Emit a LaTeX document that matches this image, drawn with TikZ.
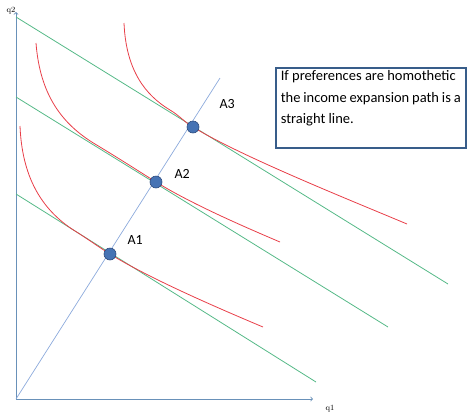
\documentclass[tikz,border=0pt]{standalone}
\usepackage{fontspec}
\newfontfamily\calfont{Carlito}
\definecolor{axisc}{RGB}{105,145,185}
\definecolor{pathc}{RGB}{140,170,220}
\definecolor{greenc}{RGB}{85,185,135}
\definecolor{redc}{RGB}{232,62,72}
\definecolor{dotfill}{RGB}{70,115,180}
\definecolor{dotdraw}{RGB}{45,75,125}
\definecolor{boxc}{RGB}{56,93,138}
\begin{document}
\begin{tikzpicture}[x=1pt,y=-1pt,
  axis/.style={draw=axisc,line width=0.8pt},
  epath/.style={draw=pathc,line width=0.7pt},
  budget/.style={draw=greenc,line width=0.8pt},
  indiff/.style={draw=redc,line width=0.8pt},
  dot/.style={circle,fill=dotfill,draw=dotdraw,line width=0.6pt,minimum size=12pt,inner sep=0pt},
  alabel/.style={font=\calfont\fontsize{14}{16}\selectfont,anchor=base west},
  qlabel/.style={font=\fontsize{8}{9}\selectfont},
  notebox/.style={draw=boxc,line width=1.6pt,fill=white,inner xsep=5pt,inner ysep=3pt,
    font=\calfont\fontsize{14.5}{21.5}\selectfont,align=left}]
\useasboundingbox (0,0) rectangle (468,416);
% axes
\coordinate (O) at (16,399);
\coordinate (Ytop) at (16,12);
\coordinate (Xend) at (313,399);
\draw[axis,->] (O) -- (Ytop);
\draw[axis,->] (O) -- (Xend);
\node[qlabel] (q2) at (11,11) {q2};
\node[qlabel] (q1) at (330,409) {q1};
% budget lines
\coordinate (B1s) at (16,194);
\coordinate (B1e) at (316,382);
\coordinate (B2s) at (16,97);
\coordinate (B2e) at (388,327);
\coordinate (B3s) at (16,17);
\coordinate (B3e) at (448,284);
\draw[budget] (B1s) -- (B1e);
\draw[budget] (B2s) -- (B2e);
\draw[budget] (B3s) -- (B3e);
% tangency points
\coordinate (A1p) at (110,254);
\coordinate (A2p) at (156,182);
\coordinate (A3p) at (193,127);
\coordinate (Etop) at (220,78);
% indifference curves
\coordinate (I1s) at (20,126);
\coordinate (I1e) at (263,327);
\coordinate (I2s) at (36,43);
\coordinate (I2e) at (280,242);
\coordinate (I3s) at (124,23);
\coordinate (I3e) at (407,224);
\draw[indiff] (I1s) .. controls (22,175) and (40,209) .. (75,231)
  .. controls (90,240.4) and (95,244.6) .. (A1p)
  .. controls (150,279) and (225,311) .. (I1e);
\draw[indiff] (I2s) .. controls (40,95) and (62,124) .. (95,144)
  .. controls (120,159) and (140,172) .. (A2p)
  .. controls (190,203) and (240,225) .. (I2e);
\draw[indiff] (I3s) .. controls (126,70) and (145,95) .. (170,110)
  .. controls (180,116) and (183,121) .. (A3p)
  .. controls (240,156) and (350,200) .. (I3e);
% expansion path
\draw[epath] (O) -- (Etop);
\node[dot] (A1) at (A1p) {};
\node[dot] (A2) at (A2p) {};
\node[dot] (A3) at (A3p) {};
\node[alabel] (L1) at (124,244) {A1};
\node[alabel] (L2) at (171,178) {A2};
\node[alabel] (L3) at (216,108) {A3};
% note
\node[notebox,anchor=north west] (note) at (275,67)
  {\parbox[t][74pt][t]{180pt}{If preferences are homothetic\\the income expansion path is a\\straight line.}};
\end{tikzpicture}
\end{document}
